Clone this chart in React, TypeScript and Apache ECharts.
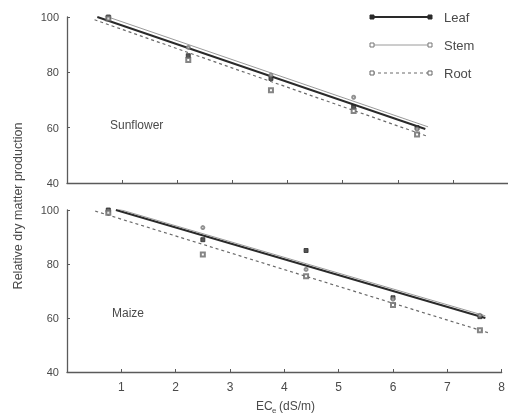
import React, { useEffect, useRef } from "react";
import * as echarts from "echarts";

// Salinity levels (ECe, dS/m) at which dry matter was measured
const sunflowerEC = [0.75, 2.2, 3.7, 5.2, 6.35];
const maizeEC = [0.76, 2.5, 4.4, 6.0, 7.6];

// Relative dry matter production (%)
const sunflowerLeaf = [100, 86, 77.8, 67.5, 60];
const sunflowerStem = [100.5, 89, 79, 71, 59.5];
const sunflowerRoot = [99.5, 84.5, 73.5, 66, 57.5];
const maizeLeaf = [100, 89, 85, 67.5, 60.5];
const maizeStem = [99.5, 93.5, 78, 67, 61];
const maizeRoot = [99, 83.5, 75.5, 64.8, 55.5];

// Regression line end points [ECe, relative production]
const sunflowerLeafFit = [[0.55, 100], [6.5, 59.5]];
const sunflowerStemFit = [[0.6, 101], [6.55, 60.3]];
const sunflowerRootFit = [[0.5, 99], [6.55, 56.8]];
const maizeLeafFit = [[0.9, 100], [7.7, 60]];
const maizeStemFit = [[0.9, 100.6], [7.7, 60.8]];
const maizeRootFit = [[0.52, 99.6], [7.76, 54.5]];

const xTicks = { min: 0, max: 8, interval: 1 };
const yTicks = { min: 40, max: 100, interval: 20 };
const legendNames = ["Leaf", "Stem", "Root"];

const FONT = "Liberation Sans, Arial, sans-serif";
const AXIS = "#5a5a5a";
const TEXT = "#4a4a4a";

const styles = {
  Leaf: { line: { color: "#2a2a2a", width: 2, type: "solid" as const }, symbol: "rect", size: 4, color: "#2a2a2a" },
  Stem: { line: { color: "#9a9a9a", width: 1, type: "solid" as const }, symbol: "emptyCircle", size: 3, color: "#777" },
  Root: { line: { color: "#6a6a6a", width: 1.2, type: [3, 3] as any }, symbol: "emptyRect", size: 4, color: "#666" },
};

const zip = (xs: number[], ys: number[]) => xs.map((x, i) => [x, ys[i]]);

export default function App() {
  const ref = useRef<HTMLDivElement>(null);

  useEffect(() => {
    if (!ref.current) return;
    const chart = echarts.init(ref.current, null, { renderer: "svg" });

    const xAxisBase = (gridIndex: number, showLabels: boolean) => ({
      type: "value" as const,
      gridIndex,
      ...xTicks,
      axisLine: { lineStyle: { color: AXIS, width: 1.3 } },
      axisTick: { inside: true, length: 3, lineStyle: { color: AXIS } },
      axisLabel: {
        show: showLabels,
        showMinLabel: false,
        color: TEXT,
        fontSize: 12,
        fontFamily: FONT,
        margin: 9,
      },
      splitLine: { show: false },
    });
    const yAxisBase = (gridIndex: number) => ({
      type: "value" as const,
      gridIndex,
      ...yTicks,
      axisLine: { show: true, lineStyle: { color: AXIS, width: 1.3 } },
      axisTick: { show: true, inside: true, length: 3, lineStyle: { color: AXIS } },
      axisLabel: { color: TEXT, fontSize: 11, fontFamily: FONT, margin: 8 },
      splitLine: { show: false },
    });

    const panel = (
      idx: number,
      ec: number[],
      data: Record<string, number[]>,
      fits: Record<string, number[][]>
    ) => {
      const out: any[] = [];
      legendNames.forEach((name) => {
        const s = (styles as any)[name];
        out.push({
          type: "line",
          name,
          xAxisIndex: idx,
          yAxisIndex: idx,
          data: fits[name],
          symbol: "none",
          lineStyle: s.line,
          z: 2,
        });
        out.push({
          type: "scatter",
          name,
          xAxisIndex: idx,
          yAxisIndex: idx,
          data: zip(ec, data[name]),
          symbol: s.symbol,
          symbolSize: s.size,
          itemStyle: { color: s.color, borderColor: s.color, borderWidth: 1 },
          z: 3,
        });
      });
      return out;
    };

    // Legend: short line samples with end markers
    const legendGraphics: any[] = [];
    legendNames.forEach((name, i) => {
      const s = (styles as any)[name];
      const y = 17 + i * 28;
      legendGraphics.push({
        type: "line",
        shape: { x1: 372, y1: y, x2: 430, y2: y },
        style: { stroke: s.line.color, lineWidth: s.line.width, lineDash: Array.isArray(s.line.type) ? s.line.type : null },
      });
      [372, 430].forEach((x) => {
        const filled = name === "Leaf";
        legendGraphics.push({
          type: "rect",
          shape: { x: x - 2, y: y - 2, width: 4, height: 4 },
          style: { fill: filled ? s.color : "#fff", stroke: s.color, lineWidth: 1 },
        });
      });
      legendGraphics.push({
        type: "text",
        x: 444,
        y,
        style: { text: name, fill: TEXT, font: `13px ${FONT}`, textVerticalAlign: "middle" },
      });
    });

    chart.setOption({
      animation: false,
      grid: [
        { left: 67, right: 0, top: 17, height: 166 },
        { left: 67, right: 0, top: 210, height: 162 },
      ],
      xAxis: [xAxisBase(0, false), xAxisBase(1, true)],
      yAxis: [yAxisBase(0), yAxisBase(1)],
      series: [
        ...panel(
          0,
          sunflowerEC,
          { Leaf: sunflowerLeaf, Stem: sunflowerStem, Root: sunflowerRoot },
          { Leaf: sunflowerLeafFit, Stem: sunflowerStemFit, Root: sunflowerRootFit }
        ),
        ...panel(
          1,
          maizeEC,
          { Leaf: maizeLeaf, Stem: maizeStem, Root: maizeRoot },
          { Leaf: maizeLeafFit, Stem: maizeStemFit, Root: maizeRootFit }
        ),
      ],
      graphic: [
        ...legendGraphics,
        {
          type: "text",
          x: 110,
          y: 125,
          style: { text: "Sunflower", fill: TEXT, font: `12px ${FONT}`, textVerticalAlign: "middle" },
        },
        {
          type: "text",
          x: 112,
          y: 313,
          style: { text: "Maize", fill: TEXT, font: `12px ${FONT}`, textVerticalAlign: "middle" },
        },
        {
          type: "text",
          x: 18,
          y: 206,
          rotation: Math.PI / 2,
          style: {
            text: "Relative dry matter production",
            fill: TEXT,
            font: `12.5px ${FONT}`,
            textAlign: "center",
            textVerticalAlign: "middle",
          },
        },
        // x-axis title: EC with subscript e
        {
          type: "text",
          x: 256,
          y: 406,
          style: { text: "EC", fill: TEXT, font: `12px ${FONT}`, textVerticalAlign: "middle" },
        },
        {
          type: "text",
          x: 272,
          y: 410,
          style: { text: "e", fill: TEXT, font: `8px ${FONT}`, textVerticalAlign: "middle" },
        },
        {
          type: "text",
          x: 279,
          y: 406,
          style: { text: "(dS/m)", fill: TEXT, font: `12px ${FONT}`, textVerticalAlign: "middle" },
        },
      ],
    });

    return () => chart.dispose();
  }, []);

  return (
    <div
      ref={ref}
      style={{ position: "fixed", left: 0, top: 0, width: 508, height: 416 }}
    />
  );
}
